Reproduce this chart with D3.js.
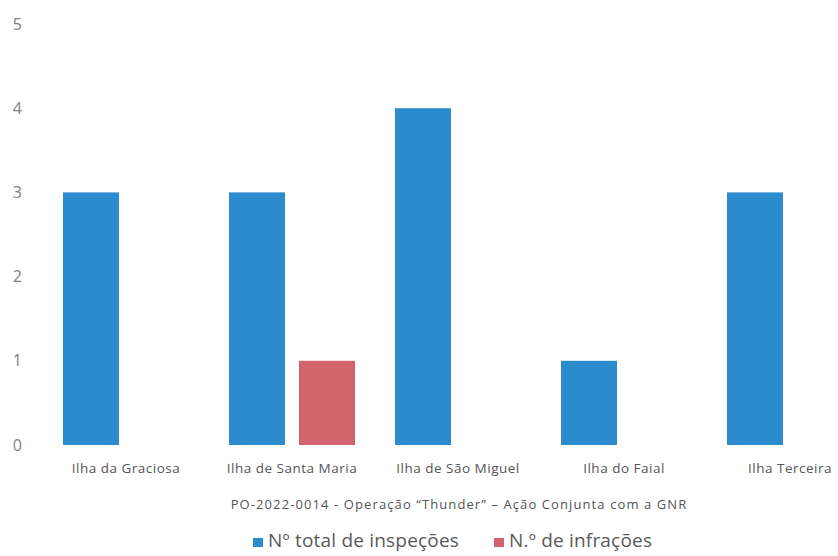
<!DOCTYPE html>
<html lang="pt">
<head>
<meta charset="utf-8">
<title>PO-2022-0014 - Operação Thunder</title>
<script src="https://d3js.org/d3.v7.min.js"></script>
<style>
  body { margin: 0; background: #fff; }
  .tick-label { font-family: "Open Sans", sans-serif; font-size: 16px; fill: #808080; }
  .cat-label { font-family: "Open Sans", sans-serif; font-size: 13.5px; letter-spacing: 0.5px; fill: #555; }
  .subtitle { font-family: "Open Sans", sans-serif; font-size: 13px; letter-spacing: 1.1px; fill: #555; }
  .legend-text { font-family: "Open Sans", sans-serif; font-size: 19px; letter-spacing: 0.2px; fill: #595959; }
</style>
</head>
<body>
<div id="vis"></div>
<script>
// data
const islands = ["Ilha da Graciosa", "Ilha de Santa Maria", "Ilha de São Miguel", "Ilha do Faial", "Ilha Terceira"];
const series = ["Nº total de inspeções", "N.º de infrações"];
const inspecoes = [3, 3, 4, 1, 3];
const infracoes = [0, 1, 0, 0, 0];
const yTicks = [0, 1, 2, 3, 4, 5];
const colors = ["#2b8bcd", "#d2646e"];

const width = 838, height = 556;

const svg = d3.select("#vis").append("svg")
  .attr("width", width)
  .attr("height", height);

const x0 = d3.scaleBand()
  .domain(islands)
  .range([43, 873])
  .paddingInner(0)
  .paddingOuter(0);

const x1 = d3.scaleBand()
  .domain(series)
  .range([0, x0.bandwidth()])
  .paddingInner(0.2)
  .paddingOuter(0.286);

const y = d3.scaleLinear()
  .domain([0, 5])
  .range([445, 24]);

// y tick labels only (no axis line)
svg.append("g")
  .selectAll("text")
  .data(yTicks)
  .join("text")
  .attr("class", "tick-label")
  .attr("x", 22)
  .attr("y", d => y(d))
  .attr("dy", "0.35em")
  .attr("text-anchor", "end")
  .text(d => d);

const rows = islands.map((c, i) => ({ cat: c, vals: [inspecoes[i], infracoes[i]] }));

const groups = svg.append("g")
  .selectAll("g")
  .data(rows)
  .join("g")
  .attr("transform", d => "translate(" + x0(d.cat) + ",0)");

groups.selectAll("rect")
  .data(d => d.vals.map((v, j) => ({ s: series[j], v: v, j: j })).filter(d => d.v > 0))
  .join("rect")
  .attr("x", d => x1(d.s))
  .attr("y", d => y(d.v))
  .attr("width", x1.bandwidth())
  .attr("height", d => y(0) - y(d.v))
  .attr("fill", d => colors[d.j]);

// category labels
svg.append("g")
  .selectAll("text")
  .data(islands)
  .join("text")
  .attr("class", "cat-label")
  .attr("x", d => x0(d) + x0.bandwidth() / 2)
  .attr("y", 473)
  .attr("text-anchor", "middle")
  .text(d => d);

svg.append("text")
  .attr("class", "subtitle")
  .attr("x", 459)
  .attr("y", 509)
  .attr("text-anchor", "middle")
  .text("PO-2022-0014 - Operação \u201CThunder\u201D \u2013 Ação Conjunta com a GNR");

// legend
const legendX = [253, 494];
const legend = svg.append("g")
  .selectAll("g")
  .data(series)
  .join("g")
  .attr("transform", (d, i) => "translate(" + legendX[i] + ",0)");

legend.append("rect")
  .attr("x", 0)
  .attr("y", 538)
  .attr("width", 10)
  .attr("height", 9)
  .attr("fill", (d, i) => colors[i]);

legend.append("text")
  .attr("class", "legend-text")
  .attr("x", 15)
  .attr("y", 547)
  .text(d => d);
</script>
</body>
</html>
